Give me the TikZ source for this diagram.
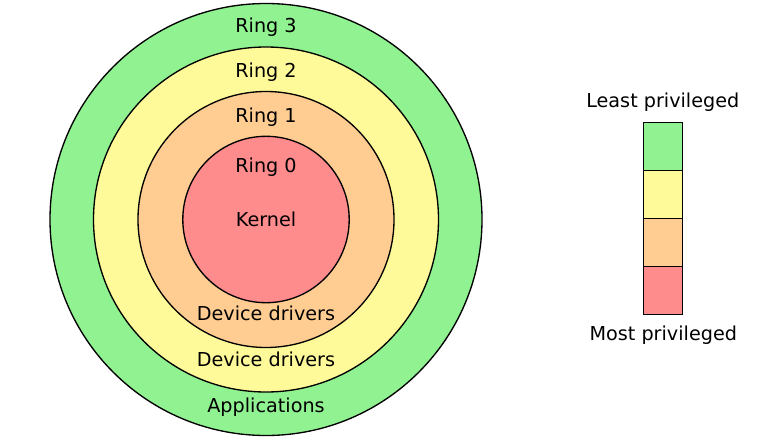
\documentclass[tikz,border=0pt]{standalone}
\usepackage{fontspec}
\setmainfont{DejaVu Sans}
\usetikzlibrary{positioning}

\definecolor{ringthree}{HTML}{90F290}
\definecolor{ringtwo}{HTML}{FFFA99}
\definecolor{ringone}{HTML}{FFCC92}
\definecolor{ringzero}{HTML}{FF8C8C}

\begin{document}
\begin{tikzpicture}[
  x=0.75pt, y=-0.75pt,
  font=\fontsize{14.4}{16}\selectfont,
  % Estilos de anillos
  ring/.style={draw, line width=1pt},
  label/.style={inner sep=1pt, anchor=base},
  % Estilos de leyenda
  legbox/.style={draw, rectangle, line width=1pt, outer sep=0pt, minimum width=29.25pt, minimum height=36pt}
]
  \useasboundingbox[fill=white] (0,0) rectangle (780,439);

  % ==========================================
  % PROTECTION RINGS
  % ==========================================
  \coordinate (centre) at (266,219.5);
  \draw[ring, fill=ringthree] (centre) circle[radius=216];
  \draw[ring, fill=ringtwo] (centre) circle[radius=172.5];
  \draw[ring, fill=ringone] (centre) circle[radius=128];
  \draw[ring, fill=ringzero] (centre) circle[radius=83.2];

  % Ring labels
  \node[label] (r3) at (266,32) {Ring 3};
  \node[label] (r2) at (266,77) {Ring 2};
  \node[label] (r1) at (266,122) {Ring 1};
  \node[label] (r0) at (266,172) {Ring 0};
  \node[label] (kernel) at (266,226) {Kernel};
  \node[label] (drv1) at (266,320) {Device drivers};
  \node[label] (drv2) at (266,366) {Device drivers};
  \node[label] (apps) at (266,412) {Applications};

  % ==========================================
  % LEGEND
  % ==========================================
  \node[legbox, fill=ringthree] (leg3) at (662.8,146.8) {};
  \node[legbox, fill=ringtwo, below=0pt of leg3] (leg2) {};
  \node[legbox, fill=ringone, below=0pt of leg2] (leg1) {};
  \node[legbox, fill=ringzero, below=0pt of leg1] (leg0) {};

  \node[label] (least) at (662.8,107) {Least privileged};
  \node[label] (most) at (663.3,340) {Most privileged};

\end{tikzpicture}
\end{document}
